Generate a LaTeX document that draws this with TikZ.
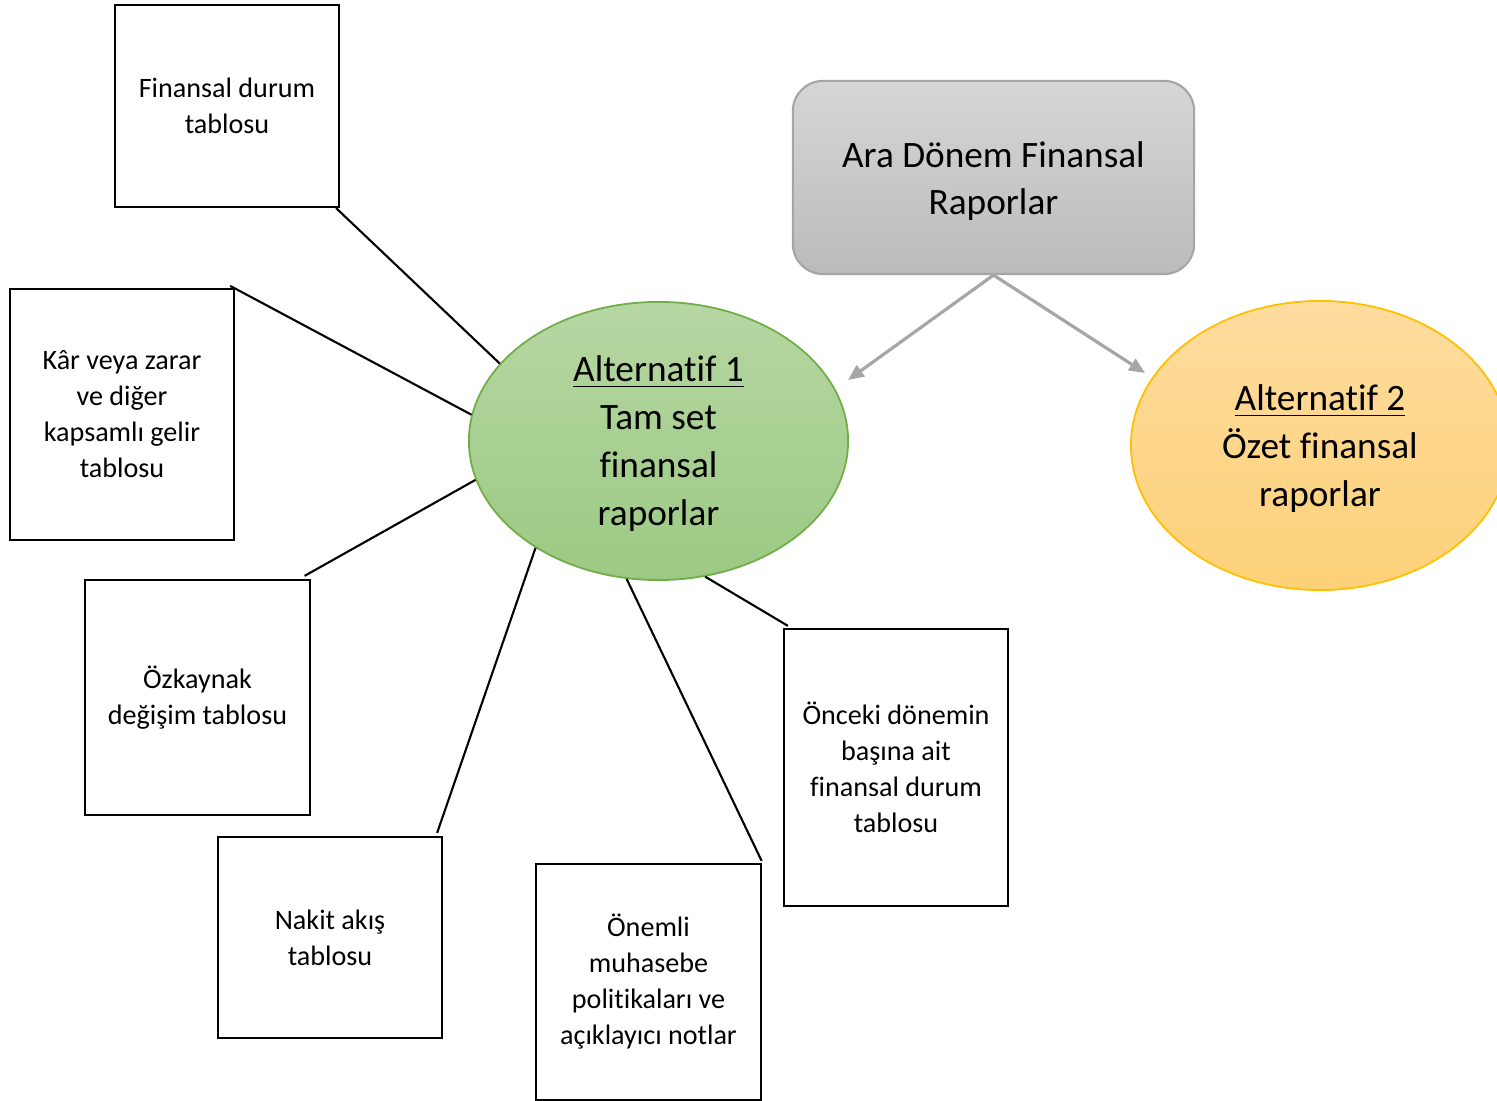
\documentclass[tikz,border=0pt]{standalone}
\usepackage{fontspec}
\setmainfont{Carlito}[Ligatures={NoCommon,NoContextual}]
\usetikzlibrary{shapes.geometric,arrows.meta}
\definecolor{arrowgray}{HTML}{A6A6A6}
\definecolor{boxgrayA}{HTML}{D6D6D6}
\definecolor{boxgrayB}{HTML}{BBBBBB}
\definecolor{boxgrayD}{HTML}{A5A5A5}
\definecolor{greenA}{HTML}{B6D7A3}
\definecolor{greenB}{HTML}{9CC983}
\definecolor{greenD}{HTML}{70AD47}
\definecolor{orangeA}{HTML}{FEDC9F}
\definecolor{orangeB}{HTML}{FDD178}
\definecolor{orangeD}{HTML}{FFC000}
\newcommand{\lowered}[2]{\raisebox{-#1}[\height][\depth]{\begin{tabular}{@{}c@{}}#2\end{tabular}}}
\begin{document}
\begin{tikzpicture}[x=0.01cm,y=-0.01cm,
 card/.style={draw=black,line width=0.6pt,fill=white,minimum width=2.24cm,align=center,inner sep=0pt,font=\fontsize{8}{10.24}\selectfont},
 link/.style={draw=black,line width=0.6pt},
 arr/.style={draw=arrowgray,line width=0.9pt,-{Triangle[length=4.5pt,width=3.8pt]}},
 bubble/.style={ellipse,inner sep=0pt,line width=0.5pt,font=\fontsize{10.6}{13.66}\selectfont}]
\clip (0,0) rectangle (1497,1101);
\fill[white] (0,0) rectangle (1497,1101);

\node[draw=boxgrayD,line width=0.6pt,rounded corners=0.3cm,top color=boxgrayA,bottom color=boxgrayB,minimum width=4.01cm,minimum height=1.93cm,inner sep=0pt,font=\fontsize{10.6}{13.4}\selectfont] (ara) at (993.5,177.5) {\lowered{0.04cm}{Ara Dönem Finansal\\Raporlar}};

\node[bubble,draw=greenD,top color=greenA,bottom color=greenB,minimum width=3.79cm,minimum height=2.78cm] (alt1) at (658.5,441) {\lowered{0.03cm}{\underline{Alternatif 1}\\Tam set\\finansal\\raporlar}};

\node[bubble,draw=orangeD,top color=orangeA,bottom color=orangeB,minimum width=3.78cm,minimum height=2.89cm] (alt2) at (1320,445.5) {\lowered{0.03cm}{\underline{Alternatif 2}\\Özet finansal\\raporlar}};

\node[card,minimum height=2.02cm] (b1) at (227,106) {Finansal durum\\tablosu};
\node[card,minimum height=2.51cm] (b2) at (122,414.5) {Kâr veya zarar\\ve diğer\\kapsamlı gelir\\tablosu};
\node[card,minimum height=2.35cm] (b3) at (197.5,697.5) {Özkaynak\\değişim tablosu};
\node[card,minimum height=2.01cm] (b4) at (330,937.5) {Nakit akış\\tablosu};
\node[card,minimum height=2.36cm] (b5) at (648.5,982) {Önemli\\muhasebe\\politikaları ve\\açıklayıcı notlar};
\node[card,minimum height=2.77cm] (b6) at (896,767.5) {Önceki dönemin\\başına ait\\finansal durum\\tablosu};

\draw[link] ([xshift=-0.04cm]b1.south east) -- (alt1.154.4);
\draw[link] ([xshift=-0.05cm,yshift=0.02cm]b2.north east) -- (alt1.172.8);
\draw[link] ([xshift=-0.06cm,yshift=0.03cm]b3.north east) -- (alt1.192.6);
\draw[link] ([xshift=-0.06cm,yshift=0.03cm]b4.north east) -- (alt1.221);
\draw[link] ([yshift=0.02cm]b5.north east) -- (alt1.257.2);
\draw[link] ([xshift=0.05cm,yshift=0.02cm]b6.north west) -- (alt1.289.5);

\coordinate (tip1) at (848,380);
\coordinate (tip2) at (1145,373);
\draw[arr] (ara.south) -- (tip1);
\draw[arr] (ara.south) -- (tip2);
\end{tikzpicture}
\end{document}
